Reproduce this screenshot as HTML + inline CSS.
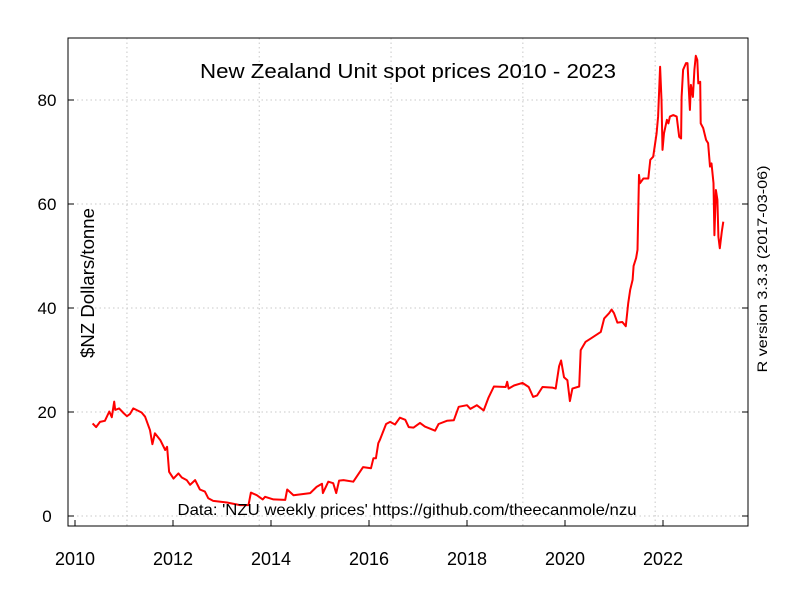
<!DOCTYPE html>
<html><head><meta charset="utf-8"><style>
body{margin:0;background:#fff;}
svg{display:block;font-family:"Liberation Sans",Arial,sans-serif;}
</style></head><body>
<svg id="chart" width="797" height="592" viewBox="0 0 797 592" xmlns="http://www.w3.org/2000/svg">
<rect width="797" height="592" fill="#fff"/>
<g id="grid"></g>
<g id="axes"></g>
<path id="line" fill="none" stroke="#ff0000" stroke-width="2" stroke-linejoin="round"/>
<rect x="68" y="38" width="680" height="488" fill="none" stroke="#000" stroke-width="1"/>
<text x="408" y="78" font-size="20" text-anchor="middle" textLength="416" lengthAdjust="spacingAndGlyphs">New Zealand Unit spot prices 2010 - 2023</text>
<text transform="translate(94,283) rotate(-90)" font-size="18" text-anchor="middle" textLength="150" lengthAdjust="spacingAndGlyphs">$NZ Dollars/tonne</text>
<text transform="translate(767,269) rotate(-90)" font-size="14" text-anchor="middle" textLength="207" lengthAdjust="spacingAndGlyphs">R version 3.3.3 (2017-03-06)</text>
<text x="407" y="515" font-size="16" text-anchor="middle" textLength="459" lengthAdjust="spacingAndGlyphs">Data: 'NZU weekly prices' https://github.com/theecanmole/nzu</text>
</svg>
<script>
const years=[2010.36,2010.43,2010.51,2010.61,2010.70,2010.75,2010.80,2010.82,2010.90,2010.99,2011.06,2011.12,2011.19,2011.36,2011.43,2011.53,2011.58,2011.63,2011.74,2011.84,2011.88,2011.92,2012.01,2012.11,2012.18,2012.28,2012.35,2012.45,2012.55,2012.65,2012.72,2012.82,2013.10,2013.37,2013.54,2013.59,2013.71,2013.83,2013.88,2014.05,2014.29,2014.33,2014.46,2014.80,2014.93,2015.04,2015.06,2015.17,2015.27,2015.33,2015.39,2015.48,2015.68,2015.88,2016.04,2016.09,2016.14,2016.19,2016.22,2016.35,2016.43,2016.53,2016.63,2016.74,2016.81,2016.91,2017.04,2017.14,2017.35,2017.42,2017.59,2017.73,2017.83,2018.00,2018.07,2018.20,2018.34,2018.44,2018.55,2018.79,2018.82,2018.85,2018.96,2019.13,2019.26,2019.35,2019.43,2019.54,2019.74,2019.81,2019.88,2019.92,2019.98,2020.05,2020.10,2020.15,2020.29,2020.32,2020.42,2020.52,2020.73,2020.80,2020.90,2020.95,2021.00,2021.07,2021.17,2021.24,2021.29,2021.33,2021.38,2021.40,2021.45,2021.48,2021.51,2021.53,2021.60,2021.70,2021.74,2021.80,2021.87,2021.90,2021.94,2021.97,2021.99,2022.02,2022.08,2022.11,2022.14,2022.21,2022.28,2022.33,2022.37,2022.38,2022.41,2022.47,2022.50,2022.52,2022.55,2022.57,2022.61,2022.64,2022.67,2022.70,2022.72,2022.76,2022.77,2022.82,2022.88,2022.92,2022.96,2022.99,2023.03,2023.05,2023.08,2023.11,2023.13,2023.16,2023.20,2023.23];
const prices=[17.8,17.1,18.1,18.3,20.1,19.0,22.0,20.4,20.7,19.8,19.2,19.6,20.7,19.9,19.1,16.5,13.8,15.9,14.6,12.7,13.3,8.5,7.2,8.2,7.4,6.9,6.0,6.9,5.1,4.7,3.4,2.9,2.6,2.1,2.1,4.5,4.0,3.2,3.7,3.2,3.1,5.1,4.0,4.4,5.6,6.2,4.4,6.6,6.3,4.4,6.8,6.9,6.6,9.4,9.2,11.1,11.1,14.0,14.6,17.7,18.1,17.6,18.9,18.5,17.1,17.0,17.9,17.2,16.4,17.7,18.3,18.4,21.0,21.3,20.6,21.3,20.3,22.8,24.9,24.8,25.8,24.5,25.1,25.6,24.8,22.9,23.2,24.8,24.7,24.5,28.8,29.9,26.7,26.1,22.1,24.5,24.9,31.9,33.5,34.1,35.4,38.0,39.0,39.7,39.0,37.2,37.3,36.5,40.9,43.5,45.4,48.1,49.6,51.2,65.6,64.0,64.9,64.9,68.5,69.1,73.6,76.8,86.4,80.0,70.4,73.6,76.2,75.5,76.8,77.1,76.8,72.9,72.6,80.6,85.8,87.1,87.1,83.2,78.1,82.9,80.6,85.8,88.5,87.7,83.2,83.5,75.5,74.6,72.3,71.7,67.2,67.8,64.0,54.0,62.7,60.8,53.7,51.5,54.7,56.6];
const xTicks=[2010,2012,2014,2016,2018,2020,2022];
const yTicks=[0,20,40,60,80];
const xGrid=[2011.06,2013.76,2016.45,2019.14,2021.84];

const NS='http://www.w3.org/2000/svg';
function xs(v){return 75+(v-2010)*49;}
function ys(v){return 516-v*5.2;}
function mk(tag,attrs,parent){const e=document.createElementNS(NS,tag);for(const k in attrs)e.setAttribute(k,attrs[k]);parent.appendChild(e);return e;}
const grid=document.getElementById('grid'),axes=document.getElementById('axes');
xGrid.forEach(g=>{const l=mk('line',{x1:xs(g),x2:xs(g),y1:38,y2:526,stroke:'#c8c8c8','stroke-dasharray':'1.5 3'},grid);

});
yTicks.forEach(t=>{const l=mk('line',{x1:68,x2:748,y1:ys(t),y2:ys(t),stroke:'#c8c8c8','stroke-dasharray':'1.5 3'},grid);


const a=mk('line',{x1:68,x2:74,y1:ys(t),y2:ys(t),stroke:'#000'},axes);


const b=mk('line',{x1:742,x2:748,y1:ys(t),y2:ys(t),stroke:'#000'},axes);


const tx=mk('text',{x:47,y:ys(t)+6,'font-size':17,'text-anchor':'middle'},axes);tx.textContent=t;

});
xTicks.forEach(t=>{const a=mk('line',{x1:xs(t),x2:xs(t),y1:520,y2:526,stroke:'#000'},axes);


const tx=mk('text',{x:xs(t),y:565,'font-size':18,'text-anchor':'middle'},axes);tx.textContent=t;

});
document.getElementById('line').setAttribute('d',years.map((y,i)=>(i?'L':'M')+xs(y).toFixed(1)+' '+ys(prices[i]).toFixed(1)).join(' '));
</script>
</body></html>
